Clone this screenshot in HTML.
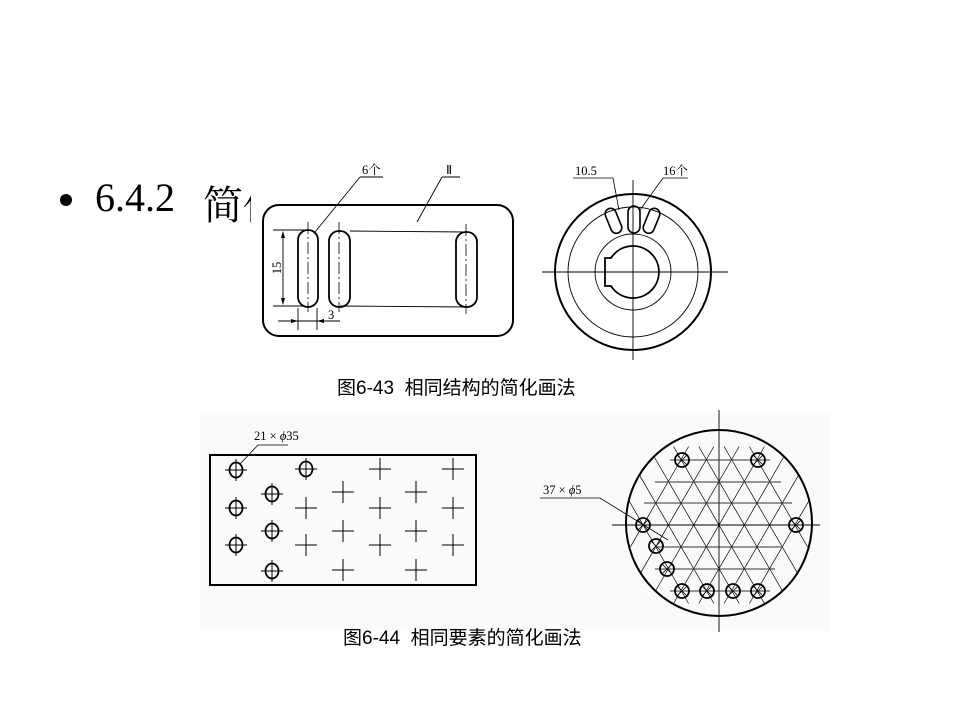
<!DOCTYPE html>
<html><head><meta charset="utf-8"><style>
html,body{margin:0;padding:0;background:#fff;}
body{width:960px;height:720px;position:relative;overflow:hidden;}
.t{position:absolute;font-family:"Liberation Serif","Noto Serif CJK SC",serif;font-size:40px;color:#000;top:174px;white-space:nowrap;}
.b{position:absolute;left:60px;top:194px;width:12px;height:12px;border-radius:50%;background:#000;}
.cap{position:absolute;font-family:"Liberation Sans","Noto Sans CJK SC",sans-serif;font-size:19px;color:#000;white-space:nowrap;}
svg{position:absolute;left:0;top:0;}
</style></head><body>
<div class="b"></div>
<div class="t" style="left:95px;">6.4.2</div>
<div class="t" style="left:203px;">简化</div>
<svg width="960" height="720" viewBox="0 0 960 720" font-family="Liberation Serif, serif" font-size="12.5">
<rect x="251" y="158" width="479" height="205" fill="#fff"/>
<rect x="200" y="413" width="630" height="218" fill="#fafafa"/>
<g fill="none" stroke="#000">
<rect x="263" y="205" width="250" height="131" rx="16" stroke-width="2"/>
<rect x="298" y="230" width="20" height="77" rx="10" stroke-width="1.8"/>
<rect x="329" y="231" width="21" height="76" rx="10" stroke-width="1.8"/>
<rect x="456" y="232" width="21" height="75" rx="10" stroke-width="1.8"/>
<g stroke-width="0.8" stroke-dasharray="12,3,2,3">
<line x1="308" y1="222" x2="308" y2="312"/><line x1="339" y1="222" x2="339" y2="312"/><line x1="466" y1="224" x2="466" y2="314"/>
</g>
<g stroke-width="0.9">
<line x1="350" y1="231" x2="466" y2="232"/><line x1="340" y1="306" x2="466" y2="307"/>
<line x1="273" y1="230" x2="305" y2="230"/><line x1="273" y1="306" x2="305" y2="306"/>
<line x1="283" y1="232" x2="283" y2="304"/>
<line x1="298" y1="308" x2="298" y2="330"/><line x1="317" y1="308" x2="317" y2="330"/>
<line x1="278" y1="321" x2="340" y2="321"/>
<line x1="315" y1="232" x2="360" y2="177"/><line x1="360" y1="177" x2="383" y2="177"/>
<line x1="417" y1="222" x2="442" y2="177"/><line x1="442" y1="177" x2="460" y2="177"/>
</g>
</g>
<g fill="#000"><path d="M283 231 l-2 7 h4z"/><path d="M283 305 l-2 -7 h4z"/><path d="M298 321 l-7 -2 v4z"/><path d="M317 321 l7 -2 v4z"/></g>
<text x="281" y="268" transform="rotate(-90 281 268)" text-anchor="middle">15</text>
<text x="328" y="319">3</text>
<text x="362" y="174" font-family="Liberation Serif, Noto Serif CJK SC, serif">6个</text>
<text x="446" y="174">Ⅱ</text>
<g fill="none" stroke="#000">
<circle cx="633" cy="272" r="78" stroke-width="2"/>
<circle cx="633" cy="272" r="65" stroke-width="0.9"/>
<circle cx="633" cy="272" r="38" stroke-width="0.9"/>
<path d="M611 258 A26 26 0 1 1 611 286 L605 286 L605 258 Z" stroke-width="1.8"/>
<line x1="542" y1="272" x2="728" y2="272" stroke-width="0.9"/>
<line x1="633" y1="180" x2="633" y2="360" stroke-width="0.9"/>
<rect x="628" y="206" width="12" height="27" rx="6" stroke-width="1.6"/>
<rect x="608" y="208" width="11" height="26" rx="5.5" stroke-width="1.6" transform="rotate(-22 613 221)"/>
<rect x="646" y="208" width="11" height="26" rx="5.5" stroke-width="1.6" transform="rotate(22 652 221)"/>
<g stroke-width="0.8"><line x1="573" y1="178" x2="613" y2="178"/><line x1="613" y1="178" x2="619" y2="210"/>
<line x1="663" y1="178" x2="688" y2="178"/><line x1="663" y1="178" x2="640" y2="210"/></g>
</g>
<text x="575" y="175">10.5</text>
<text x="663" y="175" font-family="Liberation Serif, Noto Serif CJK SC, serif">16个</text>
<g fill="none" stroke="#000">
<rect x="210" y="455" width="266" height="130" stroke-width="2"/>
<g stroke-width="1.8">
<ellipse cx="236" cy="470" rx="6.5" ry="7.5"/><ellipse cx="236" cy="508" rx="6.5" ry="7.5"/><ellipse cx="236" cy="545" rx="6.5" ry="7.5"/>
<ellipse cx="272" cy="494" rx="6.5" ry="7.5"/><ellipse cx="272" cy="531" rx="6.5" ry="7.5"/><ellipse cx="272" cy="571" rx="6.5" ry="7.5"/>
<ellipse cx="306" cy="469" rx="6.5" ry="7.5"/>
</g>
<g stroke-width="1">
<path d="M225 470h22M236 459v22M225 508h22M236 497v22M225 545h22M236 534v22M261 494h22M272 483v22M261 531h22M272 520v22M261 571h22M272 560v22M295 469h22M306 458v22"/>
<path d="M369 469h22M380 458v22M442 469h22M453 458v22M332 492h22M343 481v22M405 492h22M416 481v22M295 508h22M306 497v22M369 508h22M380 497v22M442 508h22M453 497v22M332 531h22M343 520v22M405 531h22M416 520v22M295 545h22M306 534v22M369 545h22M380 534v22M442 545h22M453 534v22M332 570h22M343 559v22M405 570h22M416 559v22"/>
<path d="M240 464 L258 445 L288 445" stroke-width="0.8"/>
</g>
</g>
<text x="254" y="440">21 × <tspan font-style="italic">ϕ</tspan>35</text>
<defs><clipPath id="cp"><circle cx="719" cy="523" r="92"/></clipPath></defs>
<g fill="none" stroke="#000">
<circle cx="719" cy="523" r="93" stroke-width="2"/>
<line x1="719" y1="410" x2="719" y2="632" stroke-width="0.9"/>
<line x1="612" y1="525" x2="820" y2="525" stroke-width="0.9"/>
<g clip-path="url(#cp)" stroke-width="0.7">
<path d="M597.6 446.5L688.6 603.5M622.9 446.5L713.9 603.5M648.2 446.5L739.2 603.5M673.5 446.5L764.5 603.5M698.8 446.5L789.8 603.5M724.1 446.5L815.1 603.5M749.4 446.5L840.4 603.5"/>
<path d="M688.6 446.5L597.6 603.5M713.9 446.5L622.9 603.5M739.2 446.5L648.2 603.5M764.5 446.5L673.5 603.5M789.8 446.5L698.8 603.5M815.1 446.5L724.1 603.5M840.4 446.5L749.4 603.5"/>
</g>
<g stroke="#333" stroke-width="1">
<path d="M670 460h100M655 482h126M644 503h148M655 547h126M655 569h120M670 591h100"/>
</g>
<g stroke-width="1.8">
<circle cx="682" cy="460" r="7"/><circle cx="758" cy="460" r="7"/><circle cx="643" cy="525" r="7"/><circle cx="796" cy="525" r="7"/>
<circle cx="656" cy="546" r="7"/><circle cx="667" cy="569" r="7"/><circle cx="682" cy="591" r="7"/><circle cx="707" cy="591" r="7"/><circle cx="733" cy="591" r="7"/><circle cx="758" cy="591" r="7"/>
</g>
<g stroke-width="0.8">
<path d="M677 455l10 10M687 455l-10 10M753 455l10 10M763 455l-10 10M638 520l10 10M648 520l-10 10M791 520l10 10M801 520l-10 10M651 541l10 10M661 541l-10 10M662 564l10 10M672 564l-10 10M677 586l10 10M687 586l-10 10M702 586l10 10M712 586l-10 10M728 586l10 10M738 586l-10 10M753 586l10 10M763 586l-10 10"/>
<path d="M540 498 L600 498 L668 540"/>
</g>
</g>
<text x="543" y="494">37 × <tspan font-style="italic">ϕ</tspan>5</text>
</svg>
<div class="cap" style="left:337px;top:373px;">图6-43&nbsp; 相同结构的简化画法</div>
<div class="cap" style="left:343px;top:623px;">图6-44&nbsp; 相同要素的简化画法</div>
</body></html>
